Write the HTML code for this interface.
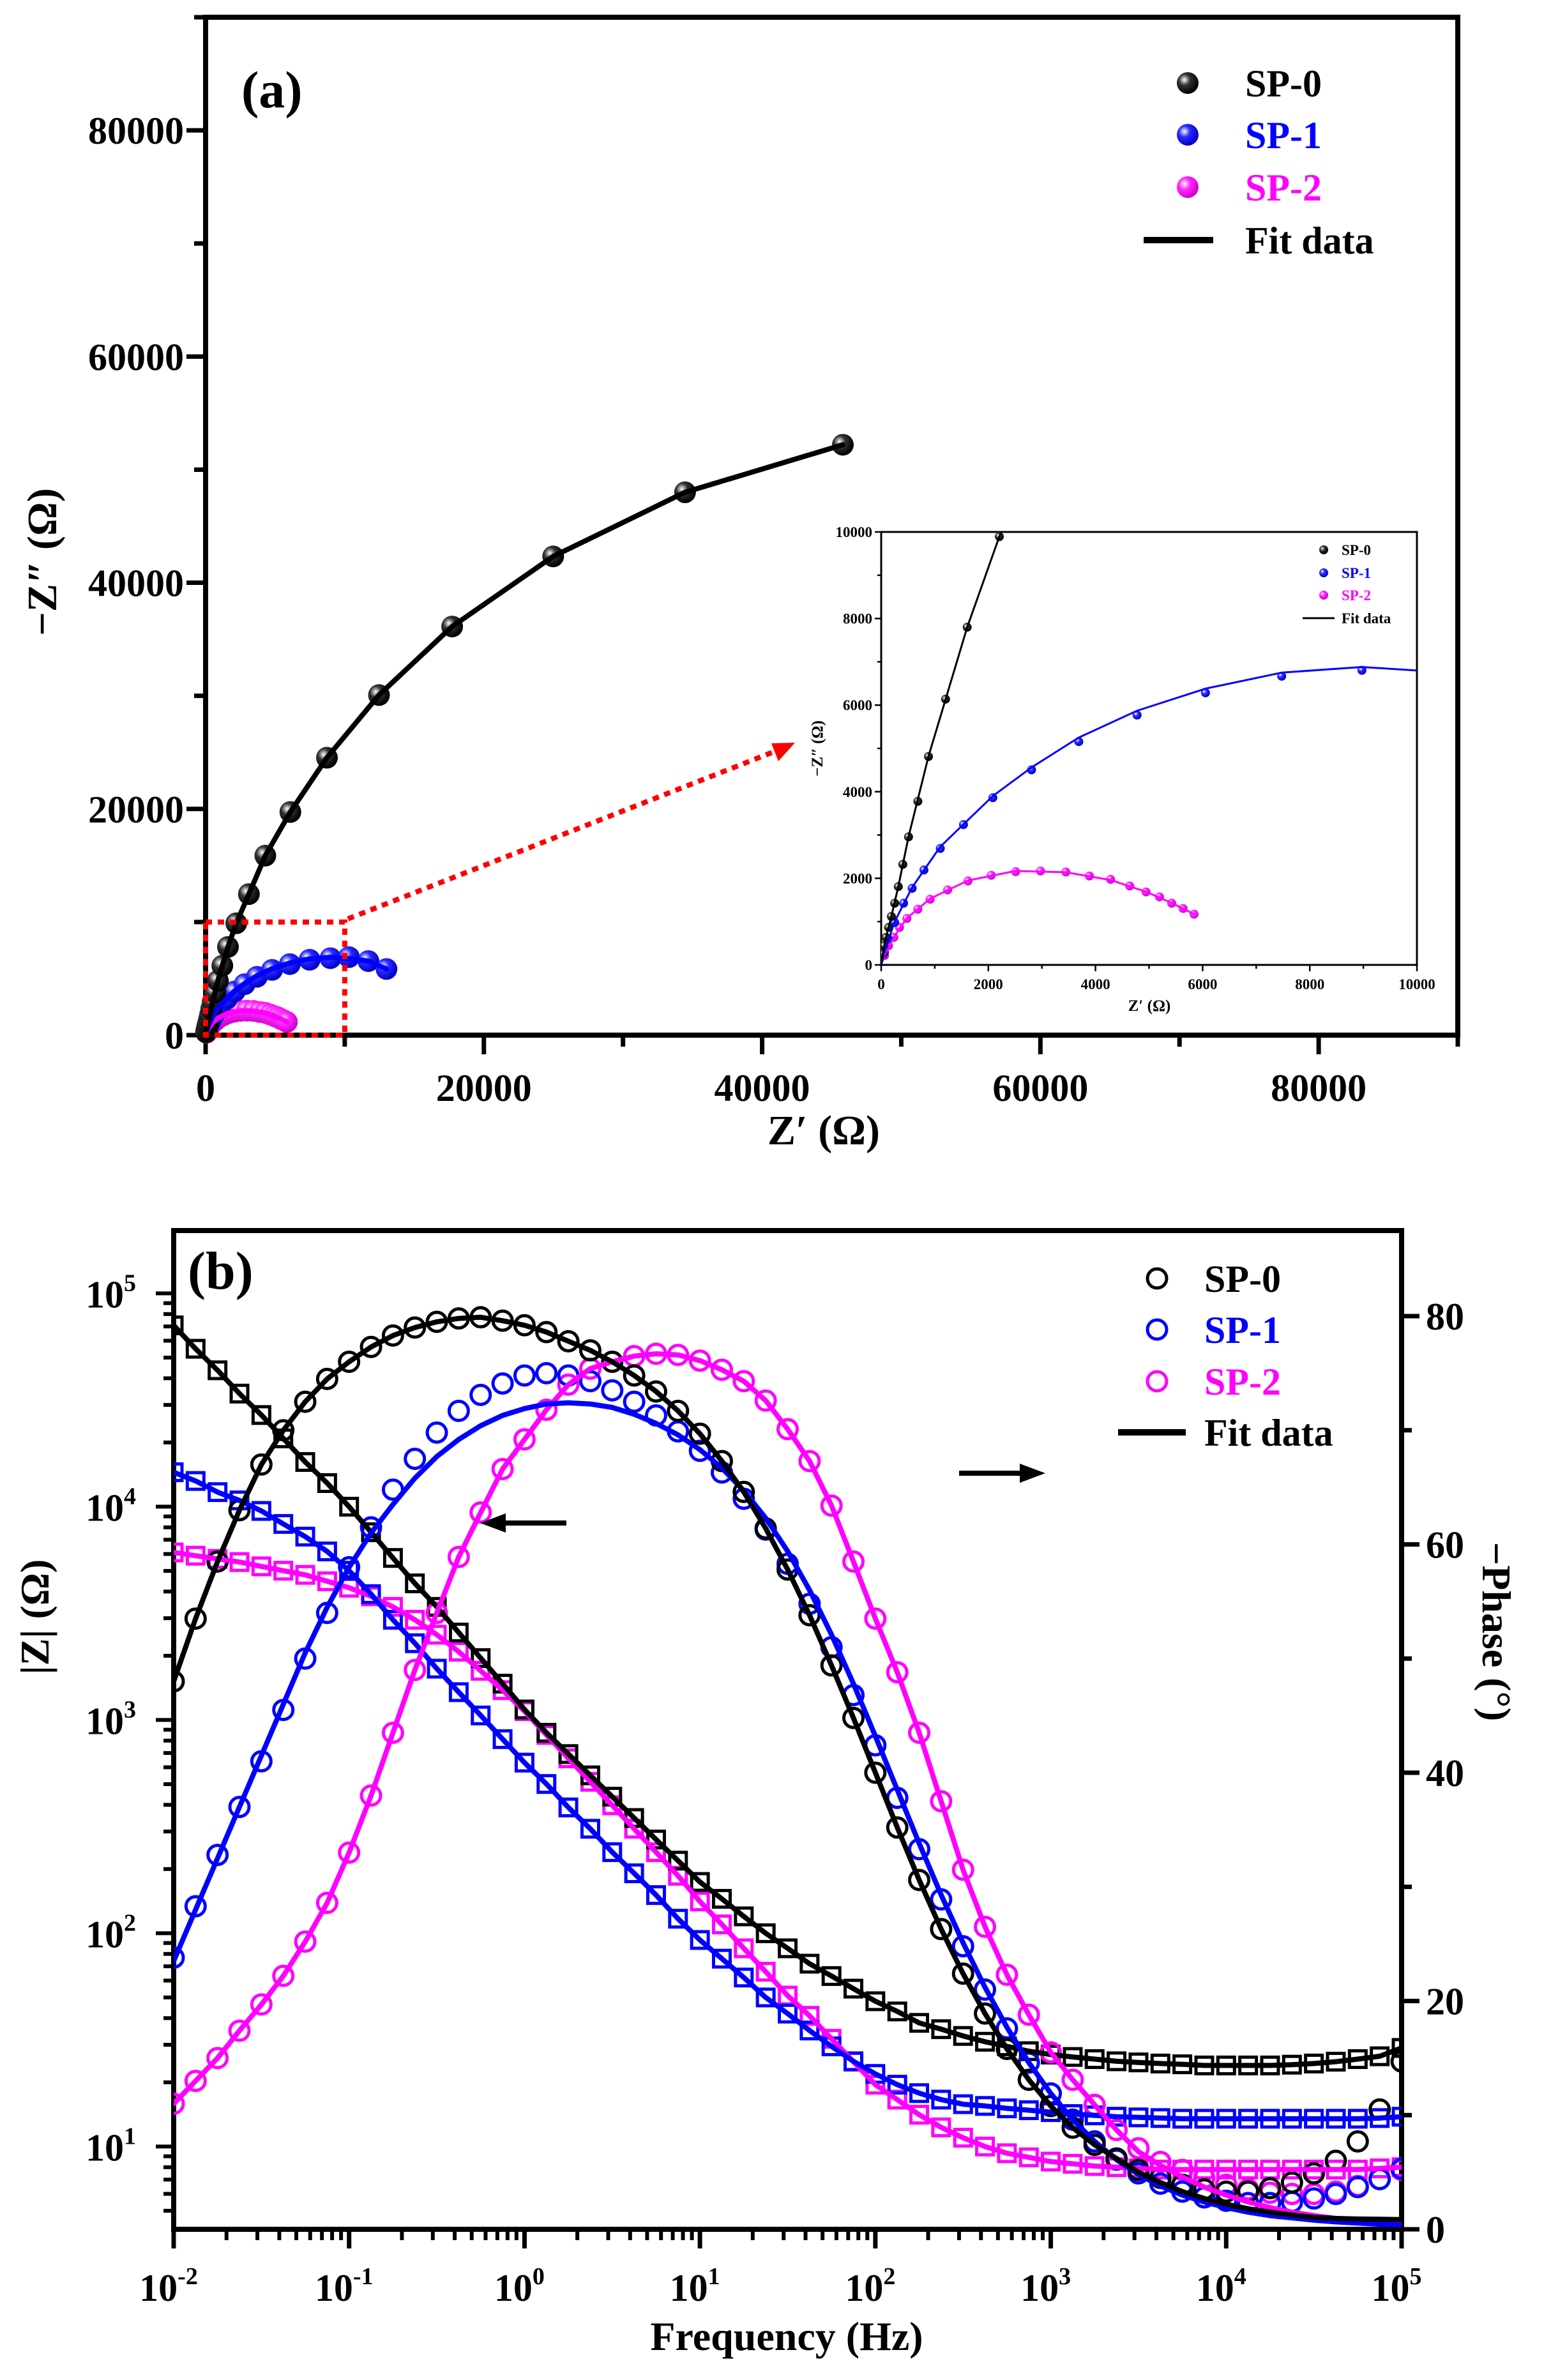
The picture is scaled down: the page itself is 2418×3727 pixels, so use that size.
<!DOCTYPE html>
<html><head><meta charset="utf-8"><style>
html,body{margin:0;padding:0;background:#fff;}
svg{display:block;font-family:"Liberation Serif",serif;font-weight:bold;}
</style></head><body>
<svg id="fig" width="2418" height="3727" viewBox="0 0 2418 3727" xmlns="http://www.w3.org/2000/svg">
<defs>
<radialGradient id="gk" cx="35%" cy="35%" r="65%"><stop offset="0" stop-color="#fff"/><stop offset="0.4" stop-color="#333"/><stop offset="1" stop-color="#000"/></radialGradient>
<radialGradient id="gb" cx="35%" cy="35%" r="65%"><stop offset="0" stop-color="#fff"/><stop offset="0.4" stop-color="#2a2aff"/><stop offset="1" stop-color="#0000c8"/></radialGradient>
<radialGradient id="gm" cx="35%" cy="35%" r="65%"><stop offset="0" stop-color="#fff"/><stop offset="0.4" stop-color="#ff2aff"/><stop offset="1" stop-color="#d000d0"/></radialGradient>
<clipPath id="insetClip"><rect x="1380" y="833" width="839" height="678"/></clipPath>
<clipPath id="bClip"><rect x="272" y="1927" width="1923" height="1564"/></clipPath>
</defs>
<g id="pa"></g>
<g id="pb"></g>
</svg>
<script>
// ---------- Panel (a) data ----------
const sp0Zr = [30,53,91,137,190,251,319,403,510,684,882,1201,1605,2205,3110,4290,6090,8720,12460,17720,24980,34460,45800];
const sp0Zi = [253,444,636,866,1119,1425,1808,2322,2958,3778,4812,6138,7800,9893,12470,15870,19730,24530,30070,36130,42330,48000,52200];
const sp1Zr = [61,137,251,418,578,798,1103,1536,2084,2806,3688,4776,6053,7475,8973,10300,11700,13000];
const sp1Zi = [291,598,981,1425,1770,2192,2690,3241,3862,4506,5157,5770,6284,6667,6805,6900,6550,5850];
const sp2Zr = [61,137,236,342,479,684,913,1240,1620,2053,2510,2973,3445,3886,4281,4639,4943,5194,5422,5635,5840];
const sp2Zi = [215,444,636,866,1073,1287,1517,1732,1939,2069,2153,2169,2146,2054,1977,1824,1686,1571,1425,1303,1172];
const fit0Zr = [0,30,91,190,319,510,882,1605,2205,3110,4290,6090,8720,12460,17720,24980,34460,45800];
const fit0Zi = [0,253,636,1119,1808,2958,4812,7800,9893,12470,15870,19730,24530,30070,36130,42330,48000,52200];
const fit1Zr = [0,61,251,578,1103,2084,2806,3688,4776,6053,7475,8973,10000,11700,13000];
const fit1Zi = [0,300,1000,1790,2730,3900,4560,5250,5870,6380,6750,6880,6800,6550,5850];
const fit2Zr = [0,61,236,479,913,1620,2510,3445,4281,4943,5422,5840];
const fit2Zi = [0,215,640,1080,1530,1950,2170,2140,1960,1690,1430,1172];
const aTicks = [0,20000,40000,60000,80000];
const aTickLabels = ["0","20000","40000","60000","80000"];
const insetTicks = [0,2000,4000,6000,8000,10000];
const insetTickLabels = ["0","2000","4000","6000","8000","10000"];

// ---------- Panel (b) data ----------
const logF = [-2,-1.875,-1.75,-1.625,-1.5,-1.375,-1.25,-1.125,-1,-0.875,-0.75,-0.625,-0.5,-0.375,-0.25,-0.125,0,0.125,0.25,0.375,0.5,0.625,0.75,0.875,1,1.125,1.25,1.375,1.5,1.625,1.75,1.875,2,2.125,2.25,2.375,2.5,2.625,2.75,2.875,3,3.125,3.25,3.375,3.5,3.625,3.75,3.875,4,4.125,4.25,4.375,4.5,4.625,4.75,4.875,5];
const zSP0 = [70800,55000,43600,33900,26900,20900,16200,12900,10000,7590,5750,4370,3390,2570,1950,1480,1120,871,692,550,437,347,275,219,174,145,120,100,85,72,63,55,48,43,38,35.5,33,31,29.5,28,27,26.3,25.7,25.1,24.8,24.5,24.3,24,24,24,24,24.2,24.5,25,25.7,26.5,29];
const zSP1 = [14500,13200,11700,10700,9550,8300,7240,6170,5010,3890,2950,2290,1740,1350,1050,813,631,501,389,309,240,191,151,117,93,76,62,50,42,35,29.5,25.1,21.9,19.5,17.8,16.6,15.8,15.5,15.1,14.8,14.5,14.2,14,13.8,13.7,13.6,13.5,13.5,13.5,13.5,13.5,13.5,13.5,13.5,13.5,13.6,13.8];
const zSP2 = [6100,5890,5690,5500,5250,5010,4790,4470,4170,3800,3390,2950,2510,2090,1700,1380,1100,851,661,513,398,309,240,186,141,110,85,66,51,41,32,25,19.5,16.6,14.1,12.3,11,10,9.3,8.9,8.5,8.3,8.1,8,7.9,7.8,7.8,7.8,7.8,7.8,7.8,7.8,7.8,7.8,7.8,7.9,8.0];
const pSP0 = [48,53.5,58.5,63,67,70,72.5,74.5,76,77.3,78.3,79,79.5,79.8,79.9,79.6,79.2,78.6,77.8,77,76,74.8,73.4,71.7,69.7,67.3,64.6,61.4,57.8,53.8,49.4,44.8,40,35.2,30.6,26.3,22.4,18.9,15.8,13.1,10.8,8.9,7.4,6.2,5.2,4.5,3.9,3.5,3.3,3.3,3.6,4.1,4.9,6,7.7,10.5,14.7];
const pSP1 = [23.8,28.3,32.8,37,41,45.5,50,54,58,61.5,64.8,67.5,69.8,71.7,73.1,74.1,74.8,75,74.8,74.3,73.5,72.5,71.3,69.9,68.2,66.3,64,61.3,58.3,54.8,51,46.8,42.4,37.8,33.3,28.9,24.8,21,17.6,14.6,11.9,9.6,7.7,6.1,4.9,4,3.3,2.8,2.5,2.3,2.3,2.4,2.7,3.1,3.7,4.4,5.3];
const pSP2 = [11,13,15,17.4,19.7,22.2,25.2,28.6,33,38,43.5,49,54,58.9,62.8,66.6,69.2,71.8,74,75.4,76,76.5,76.7,76.6,76.1,75.3,74.3,72.6,70.1,67.3,63.4,58.5,53.5,48.8,43.5,37.5,31.5,26.5,22.3,18.8,15.5,13.1,10.9,8.7,7.1,5.9,5.2,4.5,3.9,3.5,3.2,3.1,3.1,3.3,3.8,4.4,5.2];
const pFit0 = [48,53.5,58.5,63,67,70,72.5,74.5,76,77.3,78.3,79,79.5,79.8,79.9,79.6,79.2,78.6,77.8,77,76,74.8,73.4,71.7,69.7,67.3,64.6,61.4,57.8,53.8,49.4,44.8,40,35.2,30.6,26.3,22.4,18.9,15.8,13.1,10.8,8.9,7.4,6.2,5.0,4.1,3.3,2.7,2.2,1.8,1.5,1.25,1.05,0.95,0.9,0.88,0.85];
const pFit1 = [23.5,28,32.5,37,41.5,46,50.5,54.5,58,61,63.5,65.8,67.7,69.2,70.4,71.3,71.9,72.3,72.4,72.3,72,71.4,70.6,69.6,68.3,66.7,64.7,62.3,59.4,56,52.1,47.8,43.2,38.5,33.8,29.3,25.1,21.2,17.7,14.6,11.9,9.6,7.7,6.1,4.8,3.8,3,2.4,1.9,1.5,1.2,1,0.8,0.65,0.55,0.45,0.38];
const pFit2 = [11,13,15,17.4,19.7,22.2,25.2,28.6,33,38,43.5,49,54,58.9,62.8,66.6,69.2,71.8,74,75.4,76,76.5,76.7,76.6,76.1,75.3,74.3,72.6,70.1,67.3,63.4,58.5,53.5,48.8,43.5,37.5,31.5,26.5,22.3,18.8,15.5,13.1,10.9,8.7,6.8,5.6,4.6,3.7,3.0,2.4,1.9,1.5,1.2,0.95,0.75,0.6,0.5];
const bDecades = [-2,-1,0,1,2,3,4,5];
const zDecades = [1,2,3,4,5];
const phaseTicks = [0,20,40,60,80];

const NS = "http://www.w3.org/2000/svg";
function mk(parent, tag, attrs, text){
  const e = document.createElementNS(NS, tag);
  for (const k in attrs) e.setAttribute(k, attrs[k]);
  if (text !== undefined) e.textContent = text;
  parent.appendChild(e);
  return e;
}
const pa = document.getElementById('pa');
const pb = document.getElementById('pb');

// ---------- Panel (a) scales ----------
const aL=322,aR=2283,aT=27,aB=1621,aMax=90000;
const ax = v => aL + v*(aR-aL)/aMax;
const ay = v => aB - v*(aB-aT)/aMax;
const iL=1380,iR=2219,iT=833,iB=1511,iMax=10000;
const ix = v => iL + v*(iR-iL)/iMax;
const iy = v => iB - v*(iB-iT)/iMax;

for (let v=0; v<=aMax; v+=10000){
  const major = v%20000===0;
  let t = mk(pa,'line',{x1:ax(v),x2:ax(v),y1:aB,y2:aB+(major?30:18),stroke:'#000','stroke-width':7});
   
  t = mk(pa,'line',{x1:aL,x2:aL-(major?30:18),y1:ay(v),y2:ay(v),stroke:'#000','stroke-width':7});
   
}
aTicks.forEach((v,i)=>{
  let t = mk(pa,'text',{x:ax(v),y:1724,'text-anchor':'middle','font-size':60},aTickLabels[i]);
   
  t = mk(pa,'text',{x:288,y:ay(v)+21,'text-anchor':'end','font-size':60},aTickLabels[i]);
   
});
let fr = mk(pa,'rect',{x:aL,y:aT,width:aR-aL,height:aB-aT,fill:'none',stroke:'#000','stroke-width':8});
 
let tt = mk(pa,'text',{x:1290,y:1792,'text-anchor':'middle','font-size':66},'Z\u2032  (\u03A9)');
 
tt = mk(pa,'text',{x:0,y:0,'text-anchor':'middle','font-size':66,transform:'translate(88,880) rotate(-90)'},'\u2212Z\u2033 (\u03A9)');
 
tt = mk(pa,'text',{x:378,y:168,'font-size':82},'(a)');
 

function drawSeries(g, xs, ys, sx, sy, grad, r, name, clip){
  const grp = mk(g,'g', clip?{'clip-path':clip}:{});
   
  xs.forEach((x,i)=>{
    const c = mk(grp,'circle',{cx:sx(x),cy:sy(ys[i]),r:r,fill:'url(#'+grad+')'});
     
  });
}
function drawLine(g, xs, ys, sx, sy, color, w, name, clip){
  const d = xs.map((x,i)=>(i?'L':'M')+sx(x).toFixed(1)+','+sy(ys[i]).toFixed(1)).join(' ');
  const p = mk(g,'path',{d:d,fill:'none',stroke:color,'stroke-width':w,'stroke-linejoin':'round','stroke-linecap':'round'});
  if (clip) p.setAttribute('clip-path',clip);
   
}
drawSeries(pa, sp2Zr, sp2Zi, ax, ay, 'gm', 17, 'sp2-nyquist');
drawSeries(pa, sp1Zr, sp1Zi, ax, ay, 'gb', 17, 'sp1-nyquist');
drawSeries(pa, sp0Zr, sp0Zi, ax, ay, 'gk', 17, 'sp0-nyquist');
drawLine(pa, fit2Zr, fit2Zi, ax, ay, '#ff00ff', 8, 'sp2-fit-line');
drawLine(pa, fit1Zr, fit1Zi, ax, ay, '#0000ff', 8, 'sp1-fit-line');
drawLine(pa, fit0Zr, fit0Zi, ax, ay, '#000', 8, 'sp0-fit-line');

let zb = mk(pa,'rect',{x:ax(0),y:ay(10000),width:ax(10000)-ax(0),height:ay(0)-ay(10000),fill:'none',stroke:'#ff0000','stroke-width':8,'stroke-dasharray':'10 9'});
 
let ar = mk(pa,'line',{x1:ax(10000)+5,y1:ay(10000)-5,x2:1215,y2:1176,stroke:'#ff0000','stroke-width':8,'stroke-dasharray':'10 9'});
 
ar = mk(pa,'polygon',{points:'1245,1163 1208,1164 1219,1192',fill:'#ff0000'});
 

const legA = mk(pa,'g',{});  
[['SP-0','#000','gk',130],['SP-1','#0000ff','gb',211],['SP-2','#ff00ff','gm',293]].forEach(e=>{
  const c = mk(legA,'circle',{cx:1860,cy:e[3],r:17,fill:'url(#'+e[2]+')'});
   
  const t = mk(legA,'text',{x:1950,y:e[3]+21,'font-size':60,fill:e[1]},e[0]);
   
});
let ll = mk(legA,'line',{x1:1791,x2:1900,y1:376,y2:376,stroke:'#000','stroke-width':10});
 
ll = mk(legA,'text',{x:1950,y:397,'font-size':60},'Fit data');
 

const ins = mk(pa,'g',{});  
for (let v=0; v<=iMax; v+=1000){
  const major = v%2000===0;
  let t = mk(ins,'line',{x1:ix(v),x2:ix(v),y1:iB,y2:iB+(major?10:6),stroke:'#000','stroke-width':2.5});
   
  t = mk(ins,'line',{x1:iL,x2:iL-(major?10:6),y1:iy(v),y2:iy(v),stroke:'#000','stroke-width':2.5});
   
}
insetTicks.forEach((v,i)=>{
  let t = mk(ins,'text',{x:ix(v),y:iB+38,'text-anchor':'middle','font-size':23},insetTickLabels[i]);
   
  t = mk(ins,'text',{x:iL-14,y:iy(v)+8,'text-anchor':'end','font-size':23},insetTickLabels[i]);
   
});
let ifr = mk(ins,'rect',{x:iL,y:iT,width:iR-iL,height:iB-iT,fill:'#fff','fill-opacity':0,stroke:'#000','stroke-width':3});
 
tt = mk(ins,'text',{x:1800,y:iB+72,'text-anchor':'middle','font-size':25},'Z\u2032  (\u03A9)');
 
tt = mk(ins,'text',{x:0,y:0,'text-anchor':'middle','font-size':25,transform:'translate(1288,1172) rotate(-90)'},'\u2212Z\u2033 (\u03A9)');
 
drawSeries(ins, sp2Zr, sp2Zi, ix, iy, 'gm', 7, 'inset-sp2', 'url(#insetClip)');
drawSeries(ins, sp1Zr, sp1Zi, ix, iy, 'gb', 7, 'inset-sp1', 'url(#insetClip)');
drawSeries(ins, sp0Zr, sp0Zi, ix, iy, 'gk', 7, 'inset-sp0', 'url(#insetClip)');
drawLine(ins, fit2Zr, fit2Zi, ix, iy, '#ff00ff', 3, 'inset-sp2-fit', 'url(#insetClip)');
drawLine(ins, fit1Zr, fit1Zi, ix, iy, '#0000ff', 3, 'inset-sp1-fit', 'url(#insetClip)');
drawLine(ins, fit0Zr, fit0Zi, ix, iy, '#000', 3, 'inset-sp0-fit', 'url(#insetClip)');
[['SP-0','#000','gk',861],['SP-1','#0000ff','gb',897],['SP-2','#ff00ff','gm',932]].forEach(e=>{
  const c = mk(ins,'circle',{cx:2073,cy:e[3],r:7,fill:'url(#'+e[2]+')'});
   
  const t = mk(ins,'text',{x:2101,y:e[3]+8,'font-size':23,fill:e[1]},e[0]);
   
});
ll = mk(ins,'line',{x1:2040,x2:2090,y1:968,y2:968,stroke:'#000','stroke-width':3});
 
ll = mk(ins,'text',{x:2101,y:976,'font-size':23},'Fit data');
 

// ---------- Panel (b) ----------
const bL=272,bR=2195,bT=1927,bB=3491;
const bx = lf => bL + (lf+2)*(bR-bL)/7;
const lzMin=0.612, zPx=334;
const bz = v => bB - (Math.log10(v)-lzMin)*zPx;
const bp = v => bB - v*17.875;

bDecades.forEach(d=>{
  let t = mk(pb,'line',{x1:bx(d),x2:bx(d),y1:bB,y2:bB+30,stroke:'#000','stroke-width':7});
   
  if (d<5) for (let m=2;m<=9;m++){
    const xx = bx(d+Math.log10(m));
    t = mk(pb,'line',{x1:xx,x2:xx,y1:bB,y2:bB+17,stroke:'#000','stroke-width':6});
     
  }
  const lab = mk(pb,'text',{x:bx(d)-8,y:3603,'text-anchor':'middle','font-size':60});
   
  mk(lab,'tspan',{},'10');
  mk(lab,'tspan',{dy:-26,'font-size':38},String(d));
});
for (let d=0; d<=5; d++){
  for (let m=1;m<=9;m++){
    const v = Math.pow(10,d)*m; const yy = bz(v);
    if (yy<bT-1 || yy>bB+1) continue;
    const t = mk(pb,'line',{x1:bL,x2:bL-(m===1?28:16),y1:yy,y2:yy,stroke:'#000','stroke-width':6});
     
  }
}
zDecades.forEach(d=>{
  const lab = mk(pb,'text',{x:213,y:bz(Math.pow(10,d))+22,'text-anchor':'end','font-size':60});
   
  mk(lab,'tspan',{},'10');
  mk(lab,'tspan',{dy:-26,'font-size':38},String(d));
});
for (let v=0; v<=80; v+=10){
  const t = mk(pb,'line',{x1:bR,x2:bR+(v%20===0?28:16),y1:bp(v),y2:bp(v),stroke:'#000','stroke-width':7});
   
}
phaseTicks.forEach(v=>{
  const t = mk(pb,'text',{x:2233,y:bp(v)+21,'font-size':60},String(v));
   
});
fr = mk(pb,'rect',{x:bL,y:bT,width:bR-bL,height:bB-bT,fill:'none',stroke:'#000','stroke-width':8});
 
tt = mk(pb,'text',{x:1232,y:3680,'text-anchor':'middle','font-size':64},'Frequency (Hz)');
 
tt = mk(pb,'text',{x:0,y:0,'text-anchor':'middle','font-size':64,transform:'translate(76,2532) rotate(-90)'},'|Z|  (\u03A9)');
 
tt = mk(pb,'text',{x:0,y:0,'text-anchor':'middle','font-size':64,transform:'translate(2322,2555) rotate(90)'},'\u2212Phase (\u00B0)');
 
tt = mk(pb,'text',{x:294,y:2018,'font-size':84},'(b)');
 

const gB = mk(pb,'g',{'clip-path':'url(#bClip)'});
 
function squares(vals,color,name){
  const g = mk(gB,'g',{});  
  vals.forEach((v,i)=>{
    const s = mk(g,'rect',{x:bx(logF[i])-13,y:bz(v)-13,width:26,height:26,fill:'none',stroke:color,'stroke-width':5});
     
  });
}
function circles(vals,color,name){
  const g = mk(gB,'g',{});  
  vals.forEach((v,i)=>{
    const c = mk(g,'circle',{cx:bx(logF[i]),cy:bp(v),r:15,fill:'none',stroke:color,'stroke-width':5});
     
  });
}
squares(zSP2,'#ff00ff','sp2-impedance');
squares(zSP1,'#0000ff','sp1-impedance');
squares(zSP0,'#000','sp0-impedance');
circles(pSP2,'#ff00ff','sp2-phase');
circles(pSP1,'#0000ff','sp1-phase');
circles(pSP0,'#000','sp0-phase');
drawLine(gB, logF, zSP2, bx, bz, '#ff00ff', 8, 'sp2-impedance-fit');
drawLine(gB, logF, zSP1, bx, bz, '#0000ff', 8, 'sp1-impedance-fit');
drawLine(gB, logF, zSP0, bx, bz, '#000', 8, 'sp0-impedance-fit');
drawLine(gB, logF, pFit2, bx, bp, '#ff00ff', 8, 'sp2-phase-fit');
drawLine(gB, logF, pFit1, bx, bp, '#0000ff', 8, 'sp1-phase-fit');
drawLine(gB, logF, pFit0, bx, bp, '#000', 8, 'sp0-phase-fit');

let a1 = mk(pb,'line',{x1:887,x2:785,y1:2385,y2:2385,stroke:'#000','stroke-width':8});
 
a1 = mk(pb,'polygon',{points:'752,2385 792,2370 792,2400',fill:'#000'});
 
a1 = mk(pb,'line',{x1:1502,x2:1604,y1:2307,y2:2307,stroke:'#000','stroke-width':8});
 
a1 = mk(pb,'polygon',{points:'1637,2307 1597,2292 1597,2322',fill:'#000'});
 

const legB = mk(pb,'g',{});  
[['SP-0','#000',2002],['SP-1','#0000ff',2082],['SP-2','#ff00ff',2163]].forEach(e=>{
  const c = mk(legB,'circle',{cx:1812,cy:e[2],r:15,fill:'none',stroke:e[1],'stroke-width':5});
   
  const t = mk(legB,'text',{x:1886,y:e[2]+21,'font-size':60,fill:e[1]},e[0]);
   
});
ll = mk(legB,'line',{x1:1751,x2:1857,y1:2243,y2:2243,stroke:'#000','stroke-width':10});
 
ll = mk(legB,'text',{x:1886,y:2264,'font-size':60},'Fit data');
 
</script>
</body></html>
